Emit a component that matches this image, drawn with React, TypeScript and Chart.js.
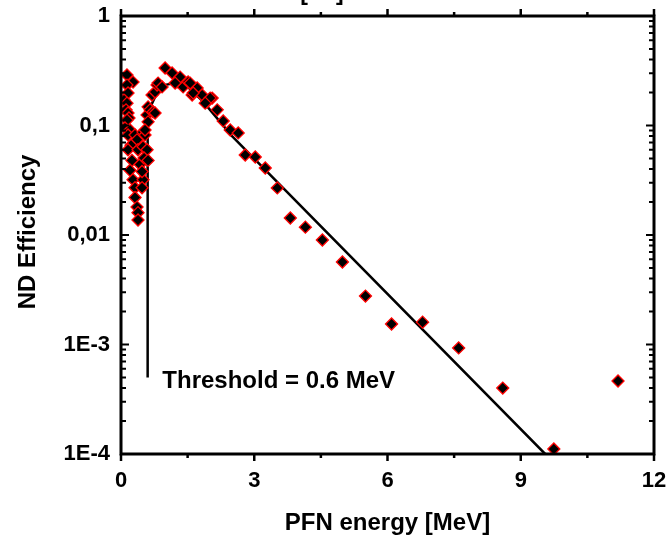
import { useEffect, useRef } from "react";
import { Chart, registerables } from "chart.js";

Chart.register(...registerables);

// Measured data points: PFN energy [MeV] and ND efficiency
const pointEnergy = [
  0.135, 0.271, 0.135, 0.158, 0.068, 0.135, 0.113, 0.158, 0.18, 0.135, 0.09, 0.203,
  0.158, 0.316, 0.361, 0.226, 0.158, 0.383, 0.248, 0.429, 0.203, 0.271, 0.496, 0.316,
  0.316, 0.361, 0.383, 0.383,
  0.496, 0.541, 0.496, 0.587, 0.519, 0.609, 0.474, 0.474, 0.587, 0.609, 0.609, 0.654,
  0.722, 0.699, 0.767, 0.812, 0.767, 0.541,
  0.835, 0.925, 0.993, 1.15, 1.263, 1.331, 1.399, 1.511, 1.602, 1.714, 1.827, 1.94,
  2.053, 2.166, 2.301, 2.459, 2.639, 2.797, 3.023, 3.248, 3.519, 3.812, 4.151, 4.534,
  4.985, 5.504, 6.091, 6.79, 7.602, 8.595, 9.745, 11.19,
  1.218, 1.557, 1.624, 2.008, 1.895,
];
const pointEfficiency = [
  0.289, 0.249, 0.234, 0.198, 0.171, 0.16, 0.139, 0.13, 0.117, 0.112, 0.095, 0.091,
  0.082, 0.082, 0.074, 0.066, 0.06, 0.06, 0.048, 0.044, 0.039, 0.032, 0.032, 0.027,
  0.022, 0.018, 0.016, 0.0137,
  0.087, 0.082, 0.064, 0.06, 0.0505, 0.048, 0.038, 0.027, 0.125, 0.108, 0.148, 0.139,
  0.133, 0.19, 0.202, 0.234, 0.13, 0.091,
  0.244, 0.225, 0.335, 0.302, 0.25, 0.277, 0.225, 0.25, 0.19, 0.22, 0.19, 0.164,
  0.178, 0.139, 0.11, 0.091, 0.0855, 0.0538, 0.0516, 0.0409, 0.0269, 0.0143, 0.0118, 0.009,
  0.00567, 0.00277, 0.00154, 0.0016, 0.00093, 0.0004, 0.000111, 0.000464,
  0.244, 0.244, 0.198, 0.178, 0.16,
];

// Fit curve with threshold at 0.6 MeV
const fitEnergy = [0.6, 0.6, 0.8, 1.0, 1.25, 1.5, 1.85, 2.5, 9.55];
const fitEfficiency = [5e-4, 0.13, 0.195, 0.235, 0.245, 0.225, 0.165, 0.08, 1e-4];

const xTickValues = [0, 3, 6, 9, 12];
const xTickLabels = ["0", "3", "6", "9", "12"];
const xMinorValues = [1.5, 4.5, 7.5, 10.5];
const yTickValues = [1e-4, 1e-3, 1e-2, 1e-1, 1];
const yTickLabels = ["1E-4", "1E-3", "0,01", "0,1", "1"];
const yMinorFactors = [2, 3, 4, 5, 6, 7, 8, 9];

const xTitle = "PFN energy [MeV]";
const yTitle = "ND Efficiency";
const thresholdLabel = "Threshold = 0.6 MeV";
const thresholdLabelAt = { x: 0.93, y: 4.0e-4 };
const topTitleFragment = "[eV]";

const FONT = '"Liberation Sans", Arial, Helvetica, sans-serif';

const framePlugin = {
  id: "frame",
  afterDraw(chart: any) {
    const { ctx, chartArea } = chart;
    const { left, right, top, bottom } = chartArea;
    const xs = chart.scales.x;
    const ys = chart.scales.y;
    ctx.save();
    ctx.strokeStyle = "#000";
    ctx.lineCap = "butt";
    // ticks
    ctx.lineWidth = 2.5;
    ctx.beginPath();
    for (const v of xTickValues) {
      const px = xs.getPixelForValue(v);
      ctx.moveTo(px, bottom);
      ctx.lineTo(px, bottom + 7);
      ctx.moveTo(px, top);
      ctx.lineTo(px, top - 7);
    }
    for (const v of xMinorValues) {
      const px = xs.getPixelForValue(v);
      ctx.moveTo(px, bottom);
      ctx.lineTo(px, bottom + 4);
      ctx.moveTo(px, top);
      ctx.lineTo(px, top - 4);
    }
    ctx.stroke();
    ctx.lineWidth = 2;
    ctx.beginPath();
    for (const v of yTickValues) {
      const py = ys.getPixelForValue(v);
      ctx.moveTo(left, py);
      ctx.lineTo(left + 8, py);
      ctx.moveTo(right, py);
      ctx.lineTo(right - 8, py);
    }
    for (let i = 0; i < yTickValues.length - 1; i++) {
      for (const f of yMinorFactors) {
        const py = ys.getPixelForValue(yTickValues[i] * f);
        ctx.moveTo(left, py);
        ctx.lineTo(left + 5, py);
        ctx.moveTo(right, py);
        ctx.lineTo(right - 5, py);
      }
    }
    ctx.stroke();
    // frame
    ctx.lineWidth = 3;
    ctx.strokeRect(left, top, right - left, bottom - top);

    // texts
    ctx.fillStyle = "#000";
    ctx.font = `bold 24px ${FONT}`;
    ctx.textAlign = "left";
    ctx.textBaseline = "alphabetic";
    ctx.fillText(
      thresholdLabel,
      xs.getPixelForValue(thresholdLabelAt.x),
      ys.getPixelForValue(thresholdLabelAt.y)
    );
    // x title
    ctx.textAlign = "center";
    ctx.fillText(xTitle, (left + right) / 2, 530);
    // y title
    ctx.save();
    ctx.translate(35, 232);
    ctx.rotate(-Math.PI / 2);
    ctx.fillText(yTitle, 0, 0);
    ctx.restore();
    // cropped top title
    ctx.font = `bold 23px ${FONT}`;
    ctx.fillText(topTitleFragment, 322, 0);
    ctx.restore();
  },
};

export default function App() {
  const canvasRef = useRef<HTMLCanvasElement | null>(null);

  useEffect(() => {
    const canvas = canvasRef.current;
    if (!canvas) return;
    Chart.defaults.font.family = FONT;
    const chart = new Chart(canvas, {
      type: "scatter",
      data: {
        datasets: [
          {
            label: "fit",
            data: fitEnergy.map((x, i) => ({ x, y: fitEfficiency[i] })),
            showLine: true,
            borderColor: "#000",
            borderWidth: 2.5,
            pointRadius: 0,
            tension: 0,
            order: 2,
          },
          {
            label: "data",
            data: pointEnergy.map((x, i) => ({ x, y: pointEfficiency[i] })),
            showLine: false,
            pointStyle: "rectRot",
            pointRadius: 6,
            backgroundColor: "#000",
            borderColor: "#ff0000",
            borderWidth: 1.3,
            order: 1,
          },
        ],
      },
      options: {
        responsive: false,
        animation: false,
        devicePixelRatio: 1,
        layout: { padding: { left: 0, right: 17, top: 16, bottom: 0 } },
        plugins: { legend: { display: false }, tooltip: { enabled: false } },
        scales: {
          x: {
            type: "linear",
            min: 0,
            max: 12,
            afterFit: (scale: any) => {
              scale.height = 82;
              scale.paddingLeft = 0;
              scale.paddingRight = 0;
            },
            afterBuildTicks: (scale: any) => {
              scale.ticks = xTickValues.map((v) => ({ value: v }));
            },
            grid: { display: false, drawTicks: false },
            border: { display: false },
            ticks: {
              padding: 14,
              color: "#000",
              font: { size: 22, weight: "bold" },
              maxRotation: 0,
              callback: (_v: any, i: number) => xTickLabels[i],
            },
          },
          y: {
            type: "logarithmic",
            min: 1e-4,
            max: 1,
            afterFit: (scale: any) => {
              scale.width = 121;
              scale.paddingTop = 0;
              scale.paddingBottom = 0;
            },
            afterBuildTicks: (scale: any) => {
              scale.ticks = yTickValues.map((v) => ({ value: v }));
            },
            grid: { display: false, drawTicks: false },
            border: { display: false },
            ticks: {
              padding: 11,
              color: "#000",
              font: { size: 22, weight: "bold" },
              callback: (_v: any, i: number) => yTickLabels[i],
            },
          },
        },
      },
      plugins: [framePlugin],
    } as any);
    return () => chart.destroy();
  }, []);

  return (
    <div style={{ position: "absolute", left: 0, top: 0, width: 671, height: 536 }}>
      <canvas ref={canvasRef} width={671} height={536} />
    </div>
  );
}
